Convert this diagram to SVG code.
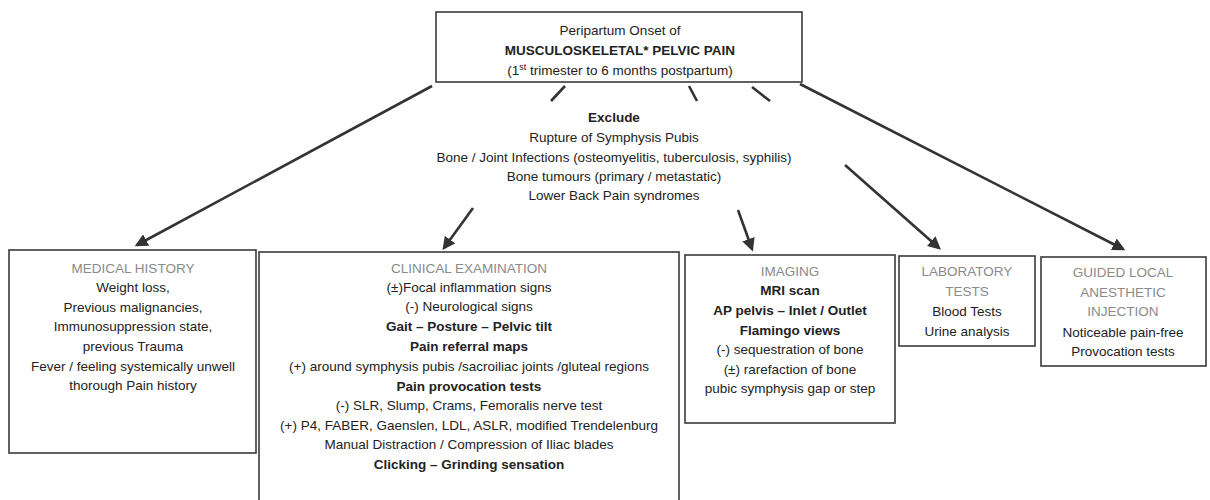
<svg xmlns="http://www.w3.org/2000/svg" width="1210" height="500" viewBox="0 0 1210 500">
<style>
.box{fill:#fff;stroke:#3a3a3a;stroke-width:1.6}
text{font-family:"Liberation Sans",Arial,sans-serif;font-size:13.5px;fill:#222;text-anchor:middle}
.b{font-weight:bold}
.h{fill:#8a8a8a}
.ln{stroke:#333;stroke-width:2.6;fill:none}
.ar{stroke:#333;stroke-width:2.6;fill:none;marker-end:url(#ah)}
</style>
<defs>
<marker id="ah" viewBox="0 0 10 10" refX="8" refY="5" markerWidth="5" markerHeight="5" orient="auto" markerUnits="strokeWidth">
<path d="M0,0 L10,5 L0,10 Z" fill="#333"/>
</marker>
</defs>
<rect width="1210" height="500" fill="#fff"/>
<g id="connectors">
<line class="ar" x1="432" y1="86" x2="137" y2="245"/>
<line class="ar" x1="473" y1="208" x2="444" y2="248"/>
<line class="ar" x1="738" y1="210" x2="752" y2="249"/>
<line class="ar" x1="845" y1="165" x2="939" y2="248"/>
<line class="ar" x1="800" y1="84" x2="1123" y2="249"/>
<line class="ln" x1="565" y1="86" x2="551" y2="101"/>
<line class="ln" x1="689" y1="86" x2="697" y2="101"/>
<line class="ln" x1="752" y1="87" x2="770" y2="101"/>
</g>
<g id="onset">
<rect class="box" x="436" y="12" width="366" height="70"/>
<text x="620" y="35">Peripartum Onset of</text>
<text x="620" y="55" class="b">MUSCULOSKELETAL* PELVIC PAIN</text>
<text x="620" y="75">(1<tspan font-size="9" dy="-5">st</tspan><tspan dy="5"> trimester to 6 months postpartum)</tspan></text>
</g>
<g id="exclude">
<text x="614" y="122" class="b">Exclude</text>
<text x="614" y="142">Rupture of Symphysis Pubis</text>
<text x="614" y="162">Bone / Joint Infections (osteomyelitis, tuberculosis, syphilis)</text>
<text x="614" y="181">Bone tumours (primary / metastatic)</text>
<text x="614" y="200">Lower Back Pain syndromes</text>
</g>
<g id="medical">
<rect class="box" x="9" y="250" width="247" height="203"/>
<text x="133" y="273" class="h">MEDICAL HISTORY</text>
<text x="133" y="292">Weight loss,</text>
<text x="133" y="312">Previous malignancies,</text>
<text x="133" y="331">Immunosuppression state,</text>
<text x="133" y="351">previous Trauma</text>
<text x="133" y="371">Fever / feeling systemically unwell</text>
<text x="133" y="390">thorough Pain history</text>
</g>
<g id="clinical">
<rect class="box" x="259" y="252" width="420" height="260"/>
<text x="469" y="273" class="h">CLINICAL EXAMINATION</text>
<text x="469" y="292">(±)Focal inflammation signs</text>
<text x="469" y="311">(-) Neurological signs</text>
<text x="469" y="331" class="b">Gait – Posture – Pelvic tilt</text>
<text x="469" y="351" class="b">Pain referral maps</text>
<text x="469" y="371">(+) around symphysis pubis /sacroiliac joints /gluteal regions</text>
<text x="469" y="391" class="b">Pain provocation tests</text>
<text x="469" y="410">(-) SLR, Slump, Crams, Femoralis nerve test</text>
<text x="469" y="430">(+) P4, FABER, Gaenslen, LDL, ASLR, modified Trendelenburg</text>
<text x="469" y="449">Manual Distraction / Compression of Iliac blades</text>
<text x="469" y="469" class="b">Clicking – Grinding sensation</text>
</g>
<g id="imaging">
<rect class="box" x="685" y="255" width="210" height="168"/>
<text x="790" y="276" class="h">IMAGING</text>
<text x="790" y="295" class="b">MRI scan</text>
<text x="790" y="315" class="b">AP pelvis – Inlet / Outlet</text>
<text x="790" y="335" class="b">Flamingo views</text>
<text x="790" y="354">(-) sequestration of bone</text>
<text x="790" y="374">(±) rarefaction of bone</text>
<text x="790" y="393">pubic symphysis gap or step</text>
</g>
<g id="laboratory">
<rect class="box" x="899" y="256" width="136" height="90"/>
<text x="967" y="276" class="h">LABORATORY</text>
<text x="967" y="296" class="h">TESTS</text>
<text x="967" y="316">Blood Tests</text>
<text x="967" y="336">Urine analysis</text>
</g>
<g id="guided">
<rect class="box" x="1041" y="257" width="165" height="109"/>
<text x="1123" y="277" class="h">GUIDED LOCAL</text>
<text x="1123" y="297" class="h">ANESTHETIC</text>
<text x="1123" y="316" class="h">INJECTION</text>
<text x="1123" y="337">Noticeable pain-free</text>
<text x="1123" y="356">Provocation tests</text>
</g>
</svg>
